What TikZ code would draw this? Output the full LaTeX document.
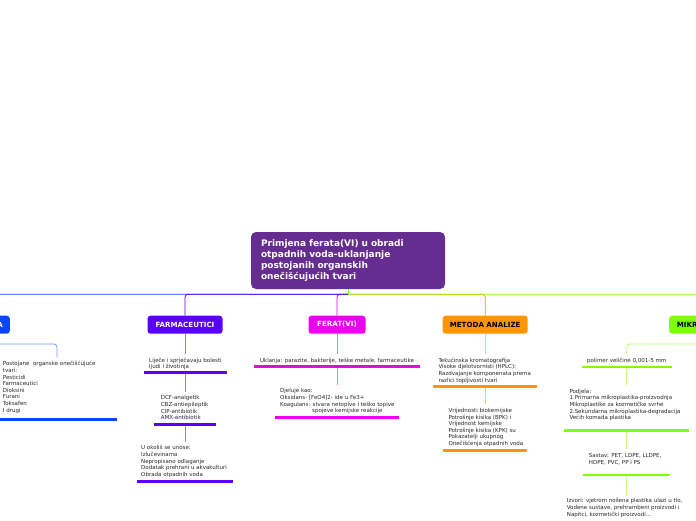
\documentclass[tikz,border=0pt]{standalone}
\usepackage{fontspec}
\setmainfont{DejaVu Sans}
\definecolor{rootc}{RGB}{102,45,145}
\definecolor{bluec}{RGB}{10,70,255}
\definecolor{farmc}{RGB}{90,0,255}
\definecolor{ferc}{RGB}{235,0,240}
\definecolor{orc}{RGB}{255,150,0}
\definecolor{grc}{RGB}{128,255,0}
\definecolor{txtc}{RGB}{40,40,40}
\tikzset{
 rootbox/.style={fill=rootc, rounded corners=5pt, minimum width=194pt, minimum height=57pt, text width=174pt, align=left, inner sep=0pt, text=white, font=\fontsize{9}{11.3}\selectfont\bfseries},
 branch/.style={fill=#1, rounded corners=3pt, minimum height=18pt, inner xsep=7pt, inner ysep=0pt, font=\fontsize{7.1}{8}\selectfont\bfseries},
 txt/.style={anchor=north west, align=left, inner sep=0pt, text=txtc, font=\fontsize{5.5}{6.6}\selectfont},
 ctxt/.style={anchor=north, align=center, inner sep=0pt, text=txtc, font=\fontsize{5.5}{6.6}\selectfont},
 ul/.style={fill=#1, minimum height=2.8pt, inner sep=0pt},
 topc/.style={draw=#1, line width=0.8pt, rounded corners=3pt},
 subc/.style={draw=#1!55!white, line width=0.8pt, rounded corners=3pt},
}
\newcommand{\fs}{\rule{0pt}{4.6pt}}
\begin{document}
\begin{tikzpicture}[x=1pt,y=-1pt]
\useasboundingbox[fill=white] (0,0) rectangle (696,520);
% root
\node[rootbox] (root) at (348,260.5) {Primjena ferata(VI) u obradi\\otpadnih voda-uklanjanje\\postojanih organskih\\onečišćujućih tvari};
% branch nodes
\node[branch=bluec, text=white, anchor=east, text width=56pt, align=right] (bn) at (10,324.7) {A};
\node[branch=farmc, text=white, minimum width=75pt] (farm) at (185,324.7) {FARMACEUTICI};
\node[branch=ferc, text=white, minimum width=57pt] (fer) at (337,324.7) {FERAT(VI)};
\node[branch=orc, text=black, minimum width=85pt] (met) at (485.2,324.7) {METODA ANALIZE};
\node[branch=grc, text=black, anchor=west, text width=56pt, align=left, inner xsep=7.7pt] (mk) at (669,324.7) {MIKR};
% top connectors
\coordinate (hub) at (348,294.3);
\draw[topc=ferc] (hub) -| (fer.north);
\draw[topc=orc] (hub) -| (met.north);
\draw[topc=bluec] (hub) -| (bn.north);
\draw[topc=farmc] (hub) -| (farm.north);
\draw[topc=grc] (hub) -| (mk.north);
\draw[draw=grc, line width=0.8pt] (root.south) -- (hub);
% blue branch
\node[txt] (b1) at (2.7,361.1) {\fs Postojane\ \ organske onečišćujuće\\tvari:\\Pesticidi\\Farmaceutici\\Dioksini\\Furani\\Toksafen\\I drugi};
\node[ul=bluec, minimum width=120pt] (ub1) at (57,419.3) {};
\coordinate (bj) at (57,344);
\draw[subc=bluec] (bn.south) |- (bj) -- ([yshift=3.5pt]b1.north -| bj);
% farmaceutici
\node[txt] (f1) at (149,357.4) {\fs Liječe i sprječavaju bolesti\\ljudi i životinja};
\node[ul=farmc, minimum width=83pt] (uf1) at (185.5,372.8) {};
\node[txt] (f2) at (160.7,395.1) {\fs DCF-analgetik\\CBZ-antiepileptik\\CIP-antibiotik\\AMX-antibiotik};
\node[ul=farmc, minimum width=62pt] (uf2) at (185,424.3) {};
\node[txt] (f3) at (141,445.1) {\fs U okoliš se unose:\\Izlučevinama\\Nepropisano odlaganje\\Dodatak prehrani u akvakulturi\\Obrada otpadnih voda};
\node[ul=farmc, minimum width=96.6pt] (uf3) at (185,481.7) {};
\draw[subc=farmc] (farm.south) -- ([yshift=3.5pt]f1.north -| farm.south);
\draw[subc=farmc] (uf1.south) -- ([yshift=3.5pt]f2.north -| uf1.south);
\draw[subc=farmc] (uf2.south) -- ([yshift=3.5pt]f3.north -| uf2.south);
% ferat
\node[ctxt] (e1) at (337,357.4) {\fs Uklanja: parazite, bakterije, teške metale, farmaceutike};
\node[ul=ferc, minimum width=166pt] (ue1) at (337,366.7) {};
\node[txt] (e2) at (280,388.1) {\fs Djeluje kao:\\Oksidans- [FeO4]2- ide u Fe3+\\Koagulans: stvara netopive i teško topive\\\hspace*{32pt}spojeve kemijske reakcije};
\node[ul=ferc, minimum width=124pt] (ue2) at (337,417.3) {};
\draw[subc=ferc] (fer.south) -- ([yshift=3.5pt]e1.north -| fer.south);
\draw[subc=ferc] (ue1.south) -- ([yshift=3.5pt]e2.north -| ue1.south);
% metoda
\node[txt] (m1) at (438.3,357.4) {\fs Tekućinska kromatografija\\Visoke djelotvornisti (HPLC):\\Razdvajanje komponenata prema\\razlici topljivosti tvari};
\node[ul=orc, minimum width=104.6pt] (um1) at (485,386.3) {};
\node[txt] (m2) at (448.3,407.7) {\fs Vrijednosti biokemijske\\Potrošnje kisika (BPK) i\\Vrijednost kemijske\\Potrošnje kisika (KPK) su\\Pokazatelji ukupnog\\Onečišćenja otpadnih voda};
\node[ul=orc, minimum width=84pt] (um2) at (485.3,450.3) {};
\draw[subc=orc] (met.south) -- ([yshift=3.5pt]m1.north -| met.south);
\draw[subc=orc] (um1.south) -- ([yshift=3.5pt]m2.north -| um1.south);
% mikroplastika
\node[ctxt] (k1) at (626.7,357.7) {\fs polimer veličine 0,001-5 mm};
\node[ul=grc, minimum width=90pt] (uk1) at (626.7,367) {};
\node[txt] (k2) at (569.3,388.4) {\fs Podjela:\\1.Primarna mikroplastika-proizvodnja\\Mikroplastike za kozmetičke svrhe\\2.Sekundarna mikroplastika-degradacija\\Većih komada plastika};
\node[ul=grc, minimum width=125pt] (uk2) at (626.5,430.7) {};
\node[txt] (k3) at (588.7,452.7) {\fs Sastav: PET, LDPE, LLDPE,\\HDPE, PVC, PP i PS};
\node[ul=grc, minimum width=86.7pt] (uk3) at (626.7,475) {};
\node[txt] (k4) at (566.7,498.1) {\fs Izvori: vjetrom nošena plastika ulazi u tlo,\\Vodene sustave, prehrambeni proizvodi i\\Napitci, kozmetički proizvodi...};
\coordinate (kj) at (626.7,344);
\draw[subc=grc] (mk.south) |- (kj) -- ([yshift=3.5pt]k1.north -| kj);
\draw[subc=grc] (uk1.south) -- ([yshift=3.5pt]k2.north -| uk1.south);
\draw[subc=grc] (uk2.south) -- ([yshift=3.5pt]k3.north -| uk2.south);
\draw[subc=grc] (uk3.south) -- ([yshift=3.5pt]k4.north -| uk3.south);
\end{tikzpicture}
\end{document}
